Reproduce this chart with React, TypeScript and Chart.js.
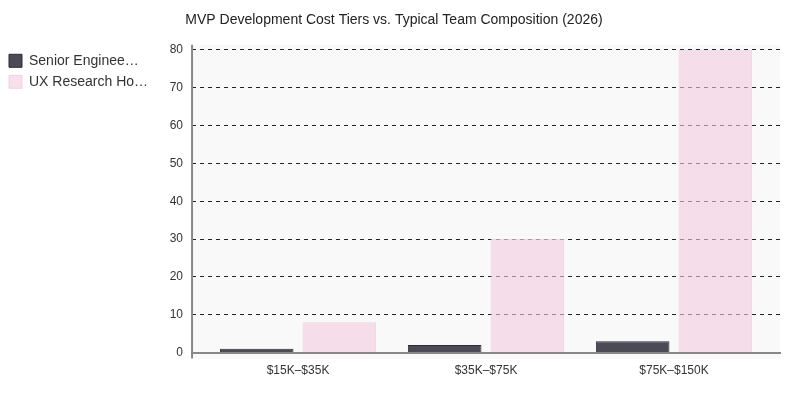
import { useEffect, useRef } from "react"
import { Chart, registerables } from "chart.js"

Chart.register(...registerables)

const tiers = ["$15K–$35K", "$35K–$75K", "$75K–$150K"]
const seriesNames = ["Senior Engineers", "UX Research Hours"]
const seniorEngineers = [1, 2, 3]
const uxResearchHours = [8, 30, 80]
const yTicks = [0, 10, 20, 30, 40, 50, 60, 70, 80]

const truncate = (s: string, n: number) => (s.length > n ? s.slice(0, n) + "…" : s)

// plot background + left axis line, drawn slightly past the chart area like the original
const plotFrame = {
  id: "plotFrame",
  beforeDraw(chart: any) {
    const { ctx, chartArea } = chart
    ctx.save()
    ctx.fillStyle = "#f9f9f9"
    ctx.fillRect(chartArea.left, chartArea.top - 5, chartArea.right - chartArea.left, chartArea.bottom - chartArea.top + 11)
    ctx.restore()
  },
  beforeDatasetsDraw(chart: any) {
    const { ctx, chartArea } = chart
    ctx.save()
    ctx.strokeStyle = "#888888"
    ctx.lineWidth = 2
    ctx.beginPath()
    ctx.moveTo(chartArea.left, chartArea.top - 5)
    ctx.lineTo(chartArea.left, chartArea.bottom + 6)
    ctx.stroke()
    ctx.restore()
  },
  afterLayout(chart: any) {
    // inset the category band a little from the plot edges
    const x = chart.scales.x
    x._startPixel += 12
    x._endPixel -= 12
    x._length -= 24
    // nudge the legend up/left
    if (chart.legend) {
      chart.legend.left -= 6
      chart.legend.top -= 3
    }
  },
}

export default function App() {
  const chartRef = useRef<HTMLCanvasElement>(null)
  const chartInstance = useRef<Chart | null>(null)

  useEffect(() => {
    if (!chartRef.current) return
    if (chartInstance.current) chartInstance.current.destroy()

    Chart.defaults.font.family = "'Liberation Sans', Arial, sans-serif"
    Chart.defaults.color = "#333333"

    chartInstance.current = new Chart(chartRef.current, {
      type: "bar",
      data: {
        labels: tiers,
        datasets: [
          {
            label: seriesNames[0],
            data: seniorEngineers,
            backgroundColor: "#4b4a57",
            borderColor: "#2c2b34",
            borderWidth: 1,
          },
          {
            label: seriesNames[1],
            data: uxResearchHours,
            backgroundColor: "rgba(242, 204, 221, 0.6)",
            borderColor: "rgba(236, 196, 214, 0.7)",
            borderWidth: 1,
          },
        ],
      },
      options: {
        animation: false,
        responsive: true,
        maintainAspectRatio: false,
        layout: { padding: { top: 0, right: 12, bottom: 3, left: 0 } },
        datasets: {
          bar: { categoryPercentage: 0.88, barPercentage: 0.89 },
        },
        scales: {
          x: {
            grid: { display: false, drawTicks: false },
            border: { display: true, color: "#888888", width: 2 },
            ticks: { color: "#333333", font: { size: 12 }, padding: 11 },
          },
          y: {
            min: 0,
            max: 80,
            afterBuildTicks: (scale: any) => {
              scale.ticks = yTicks.map((v) => ({ value: v }))
            },
            afterFit: (scale: any) => {
              scale.width = 28
            },
            grid: { color: "#222222", lineWidth: 1, drawTicks: false },
            border: { display: false, dash: [4, 4] },
            ticks: { color: "#333333", font: { size: 12 }, padding: 9 },
          },
        },
        plugins: {
          title: {
            display: true,
            text: "MVP Development Cost Tiers vs. Typical Team Composition (2026)",
            color: "#222222",
            font: { size: 14, weight: "normal" },
            padding: { top: 4, bottom: 21 },
          },
          legend: {
            position: "left",
            align: "start",
            fullSize: false,
            labels: {
              boxWidth: 13,
              boxHeight: 13,
              padding: 7,
              color: "#333333",
              font: { size: 14 },
              generateLabels: (chart: any) =>
                Chart.defaults.plugins.legend.labels
                  .generateLabels(chart)
                  .map((item: any) => ({ ...item, text: truncate(item.text, 14) })),
            },
          },
          tooltip: { enabled: false },
        },
      },
      plugins: [plotFrame],
    } as any)

    return () => {
      if (chartInstance.current) {
        chartInstance.current.destroy()
        chartInstance.current = null
      }
    }
  }, [])

  return (
    <div style={{ position: "relative", width: 784, height: 384 }}>
      <canvas ref={chartRef} />
    </div>
  )
}
